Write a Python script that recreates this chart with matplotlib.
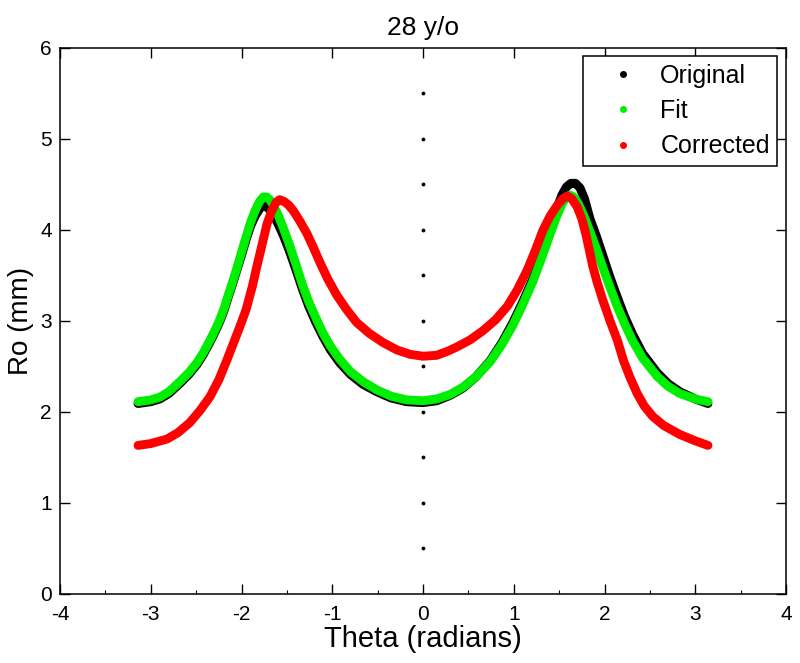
import matplotlib
matplotlib.use("Agg")
import matplotlib.pyplot as plt
from matplotlib.lines import Line2D
import numpy as np

plt.rcParams['font.family'] = ['Liberation Sans', 'DejaVu Sans']
plt.rcParams['axes.unicode_minus'] = False

# original measurement
theta_orig = [-3.14, -3.00, -2.90, -2.80, -2.68, -2.58, -2.49, -2.42, -2.35, -2.29,
              -2.24, -2.19, -2.14, -2.10, -2.05, -2.00, -1.95, -1.90, -1.85, -1.80,
              -1.77, -1.73, -1.69, -1.65, -1.60, -1.54, -1.47, -1.40, -1.33, -1.26,
              -1.18, -1.10, -1.02, -0.92, -0.80, -0.66, -0.51, -0.35, -0.18, 0.00,
              0.15, 0.30, 0.44, 0.58, 0.74, 0.87, 0.99, 1.10, 1.21, 1.30,
              1.40, 1.47, 1.53, 1.58, 1.63, 1.68, 1.73, 1.78, 1.84, 1.91,
              1.98, 2.06, 2.14, 2.22, 2.31, 2.42, 2.58, 2.70, 2.83, 3.00, 3.14]
r_orig = [2.09, 2.11, 2.14, 2.20, 2.31, 2.41, 2.52, 2.63, 2.76, 2.88,
          2.99, 3.12, 3.28, 3.40, 3.56, 3.72, 3.89, 4.04, 4.15, 4.23,
          4.27, 4.26, 4.22, 4.16, 4.07, 3.94, 3.76, 3.56, 3.35, 3.16,
          2.98, 2.82, 2.68, 2.54, 2.41, 2.30, 2.22, 2.15, 2.11, 2.10,
          2.12, 2.18, 2.26, 2.38, 2.56, 2.76, 2.98, 3.21, 3.46, 3.71,
          4.00, 4.22, 4.38, 4.47, 4.51, 4.51, 4.46, 4.34, 4.12, 3.93,
          3.72, 3.48, 3.26, 3.05, 2.85, 2.64, 2.43, 2.31, 2.22, 2.14, 2.09]

# fitted curve
theta_fit = [-3.14, -3.00, -2.90, -2.80, -2.68, -2.58, -2.49, -2.42, -2.35, -2.29,
             -2.24, -2.19, -2.14, -2.10, -2.05, -2.00, -1.95, -1.90, -1.85, -1.80,
             -1.76, -1.72, -1.68, -1.64, -1.60, -1.54, -1.47, -1.40, -1.33, -1.26,
             -1.18, -1.10, -1.02, -0.92, -0.80, -0.66, -0.51, -0.35, -0.18, 0.00,
             0.15, 0.30, 0.44, 0.58, 0.74, 0.87, 0.99, 1.10, 1.21, 1.30,
             1.40, 1.47, 1.53, 1.58, 1.62, 1.66, 1.71, 1.77, 1.84, 1.91,
             1.98, 2.06, 2.14, 2.22, 2.31, 2.42, 2.58, 2.70, 2.83, 3.00, 3.14]
r_fit = [2.11, 2.13, 2.16, 2.22, 2.33, 2.43, 2.54, 2.65, 2.78, 2.90,
         3.01, 3.14, 3.30, 3.42, 3.58, 3.75, 3.92, 4.08, 4.21, 4.31,
         4.36, 4.36, 4.32, 4.25, 4.17, 4.02, 3.83, 3.62, 3.40, 3.21,
         3.03, 2.86, 2.72, 2.58, 2.44, 2.33, 2.24, 2.17, 2.13, 2.12,
         2.14, 2.19, 2.27, 2.38, 2.55, 2.74, 2.95, 3.18, 3.43, 3.67,
         3.95, 4.14, 4.28, 4.36, 4.38, 4.36, 4.29, 4.16, 3.98, 3.79,
         3.59, 3.37, 3.16, 2.97, 2.78, 2.59, 2.39, 2.28, 2.20, 2.14, 2.11]

# corrected curve
theta_cor = [-3.14, -3.00, -2.82, -2.70, -2.57, -2.46, -2.35, -2.25, -2.16, -2.09,
             -2.02, -1.95, -1.88, -1.83, -1.77, -1.72, -1.67, -1.62, -1.58, -1.53,
             -1.48, -1.43, -1.36, -1.28, -1.21, -1.14, -1.05, -0.95, -0.84, -0.73,
             -0.59, -0.44, -0.29, -0.14, 0.00, 0.15, 0.26, 0.37, 0.52, 0.66,
             0.80, 0.93, 1.04, 1.15, 1.24, 1.32, 1.40, 1.48, 1.54, 1.59,
             1.64, 1.70, 1.75, 1.79, 1.83, 1.87, 1.92, 1.98, 2.06, 2.14,
             2.21, 2.28, 2.36, 2.44, 2.53, 2.65, 2.83, 3.00, 3.14]
r_cor = [1.63, 1.65, 1.70, 1.77, 1.88, 2.01, 2.16, 2.35, 2.57, 2.75,
         2.93, 3.12, 3.38, 3.60, 3.85, 4.06, 4.20, 4.30, 4.33, 4.31,
         4.27, 4.21, 4.10, 3.96, 3.81, 3.65, 3.46, 3.28, 3.12, 2.98,
         2.86, 2.76, 2.68, 2.63, 2.61, 2.62, 2.66, 2.71, 2.79, 2.89,
         3.01, 3.16, 3.34, 3.56, 3.78, 3.99, 4.15, 4.27, 4.34, 4.37,
         4.34, 4.25, 4.12, 3.97, 3.79, 3.60, 3.42, 3.23, 3.00, 2.79,
         2.56, 2.38, 2.20, 2.06, 1.95, 1.85, 1.75, 1.68, 1.63]

# dotted centre line at theta = 0
center_y = [0.5, 1.0, 1.5, 2.0, 2.5, 3.0, 3.5, 4.0, 4.5, 5.0, 5.5]

fig = plt.figure(figsize=(8, 6.63), dpi=100)
ax = fig.add_axes([0.075, 0.1045, 0.9075, 0.8235])

lw = 6.4
ax.plot(theta_orig, r_orig, color='black', lw=lw, solid_capstyle='round', solid_joinstyle='round')
ax.plot(theta_fit, r_fit, color='#00ee00', lw=lw, solid_capstyle='round', solid_joinstyle='round')
ax.plot(theta_cor, r_cor, color='#ff0000', lw=lw, solid_capstyle='round', solid_joinstyle='round')
ax.plot(np.zeros(len(center_y)), center_y, 'k.', markersize=3.5)

ax.set_xlim(-4, 4)
ax.set_ylim(0, 6)
ax.set_xticks(range(-4, 5))
ax.set_yticks(range(0, 7))
ax.set_xticks(np.arange(-3.5, 4, 1.0), minor=True)
ax.tick_params(which='major', direction='in', length=7, width=1, labelsize=15,
               top=True, right=True)
ax.tick_params(axis='x', which='major', pad=8)
ax.tick_params(axis='y', which='major', pad=6)
ax.tick_params(axis='x', which='minor', direction='in', length=3, width=0.8, top=False)
for s in ax.spines.values():
    s.set_linewidth(1.1)

ax.set_title('28 y/o', fontsize=19, pad=9)
ax.set_xlabel('Theta (radians)', fontsize=21, labelpad=1)
ax.set_ylabel('Ro (mm)', fontsize=20, labelpad=4)

handles = [Line2D([], [], ls='none', marker='o', ms=4, color='black'),
           Line2D([], [], ls='none', marker='o', ms=4, color='#00ee00'),
           Line2D([], [], ls='none', marker='o', ms=4, color='#ff0000')]
leg = ax.legend(handles, ['Original', 'Fit', 'Corrected'], loc='upper right',
                fontsize=18, fancybox=False, framealpha=1, edgecolor='black',
                borderaxespad=0.35, handlelength=2.6, handletextpad=0.2,
                labelspacing=0.45, borderpad=0.3)
leg.get_frame().set_linewidth(1.1)

plt.savefig('out.png', dpi=100)
